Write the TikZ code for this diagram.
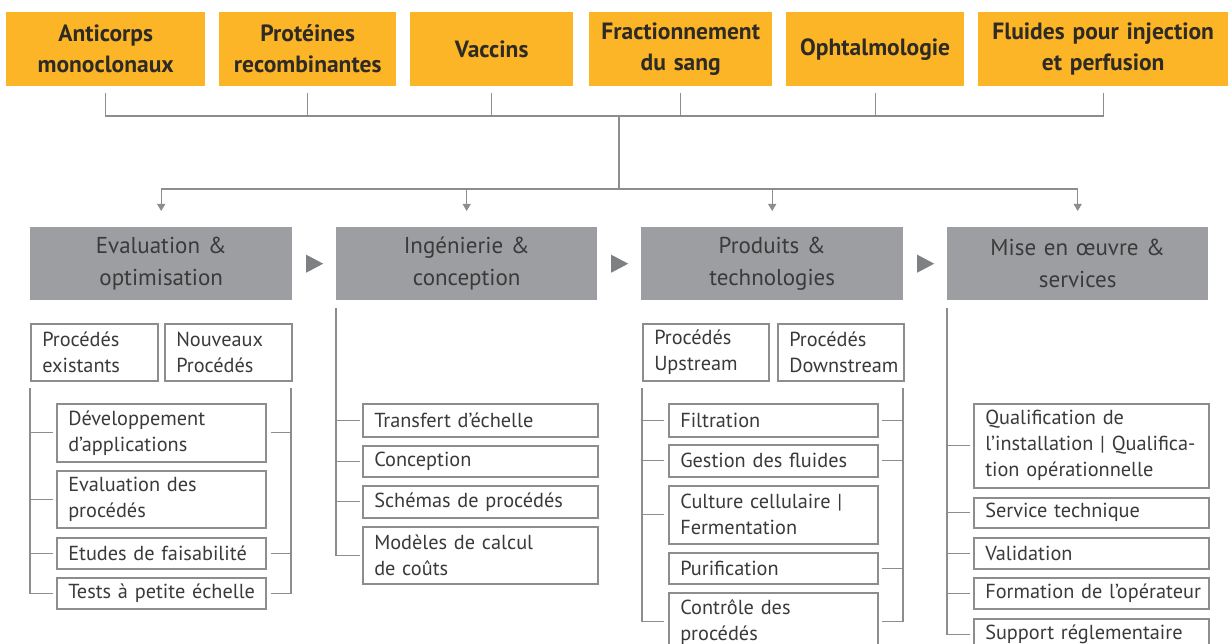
\documentclass[tikz,border=0pt]{standalone}
\usepackage{fontspec}
\setmainfont{PT Sans}
\usetikzlibrary{calc,arrows.meta}
\definecolor{orng}{HTML}{FBB526}
\definecolor{hdr}{HTML}{9D9EA1}
\definecolor{ln}{HTML}{8C8D8F}
\definecolor{txt}{HTML}{3A3A3A}
\definecolor{ttxt}{HTML}{2E2A25}
\definecolor{trig}{HTML}{7F8084}
\newcommand\bx[7][sbox]{%
  \pgfmathsetlengthmacro\bxw{#5pt-#3pt}%
  \pgfmathsetlengthmacro\bxh{#6pt-#4pt}%
  \pgfmathsetlengthmacro\bxt{#5pt-#3pt-23pt}%
  \node[#1,minimum width=\bxw,minimum height=\bxh,text width=\bxt,anchor=north west] (#2) at (#3,#4) {#7};}
\begin{document}
\begin{tikzpicture}[x=1pt,y=-1pt,
  topbox/.style={fill=orng,draw=none,inner sep=0pt,align=center,text=ttxt,
    font=\fontsize{23.5}{31}\selectfont\bfseries},
  hdrbox/.style={fill=hdr,draw=none,inner sep=0pt,align=center,text=txt,
    font=\fontsize{23}{32}\selectfont},
  sbox/.style={draw=ln,line width=1.5pt,fill=white,inner sep=0pt,align=left,text=txt,
    font=\fontsize{20.3}{26}\selectfont},
  conn/.style={draw=ln,line width=1.3pt},
  arr/.style={conn,-{Triangle[length=7pt,width=8pt]}},
  tri/.style={fill=trig,draw=none}]
\useasboundingbox (0,0) rectangle (1231,644);
% top boxes
\bx[topbox]{t1}{6}{12}{205}{86}{Anticorps\\monoclonaux}
\bx[topbox]{t2}{219}{12}{396}{86}{Protéines\\recombinantes}
\bx[topbox]{t3}{410}{12}{573}{86}{Vaccins}
\bx[topbox]{t4}{589}{12}{772}{86}{Fractionnement\\du sang}
\bx[topbox]{t5}{786}{12}{964}{86}{Ophtalmologie}
\bx[topbox]{t6}{978}{12}{1228}{86}{Fluides pour injection\\et perfusion}
% header boxes
\bx[hdrbox]{g1}{30}{227}{292}{300}{Evaluation \&\\optimisation}
\bx[hdrbox]{g2}{336}{227}{597}{300}{Ingénierie \&\\conception}
\bx[hdrbox]{g3}{641}{227}{903}{300}{Produits \&\\technologies}
\bx[hdrbox]{g4}{947}{227}{1208}{300}{Mise en œuvre \&\\services}
% triangles
\foreach \a/\b in {g1/g2,g2/g3,g3/g4}{
  \fill[tri] ($(\a.east)!0.5!(\b.west)$) +(-8,-9) -- +(9,0) -- +(-8,9) -- cycle;}
% top connectors
\coordinate (bus) at (619,116);
\coordinate (bus2) at (619,189);
\draw[conn] ([yshift=-7pt]t1.south) -- (t1.south |- bus) -- (t6.south |- bus) -- ([yshift=-7pt]t6.south);
\foreach \t in {t2,t3,t4,t5}{\draw[conn] ([yshift=-7pt]\t.south) -- (\t.south |- bus);}
\draw[conn] (bus) -- (bus2);
\draw[conn] (g1.north |- bus2) -- (g4.north |- bus2);
\foreach \g in {g1,g2,g3,g4}{\draw[arr] (\g.north |- bus2) -- ([yshift=16pt]\g.north);}
% column 1
\bx{s1}{30}{323}{157}{380}{Procédés\\existants}
\bx{s2}{164}{323}{291}{380}{Nouveaux\\Procédés}
\bx{e1}{56}{403}{265}{461}{Développement\\d’applications}
\bx{e2}{56}{470}{265}{527}{Evaluation des\\procédés}
\bx{e3}{56}{537}{265}{568}{\mbox{Etudes de faisabilité}}
\bx{e4}{56}{577}{265}{608}{\mbox{Tests à petite échelle}}
\coordinate (c1L) at (30,388);
\coordinate (c1R) at (291,388);
\draw[conn] (c1L) -- (c1L |- e4.west) -- ([xshift=-3pt]e4.west);
\foreach \e in {e1,e2,e3}{\draw[conn] (c1L |- \e.west) -- ([xshift=-3pt]\e.west);}
\draw[conn] (c1R) -- (c1R |- e4.east) -- ([xshift=4pt]e4.east);
\foreach \e in {e1,e3}{\draw[conn] (c1R |- \e.east) -- ([xshift=4pt]\e.east);}
% column 2
\bx{f1}{362}{403}{597}{436}{\mbox{Transfert d’échelle}}
\bx{f2}{362}{445}{597}{476}{Conception}
\bx{f3}{362}{485}{597}{517}{\mbox{Schémas de procédés}}
\bx{f4}{362}{526}{597}{583}{Modèles de calcul\\de coûts}
\coordinate (c2L) at ([yshift=-8pt]g2.south west);
\draw[conn] (c2L) -- (c2L |- f4.west) -- ([xshift=-2pt]f4.west);
\foreach \f in {f1,f2,f3}{\draw[conn] (c2L |- \f.west) -- ([xshift=-2pt]\f.west);}
% column 3
\bx{s3}{642}{323}{768}{380}{Procédés\\Upstream}
\bx{s4}{777}{323}{903}{380}{Procédés\\Downstream}
\bx{p1}{668}{403}{877}{436}{Filtration}
\bx{p2}{668}{444}{877}{476}{\mbox{Gestion des fluides}}
\bx{p3}{668}{485}{877}{543}{\mbox{Culture cellulaire |}\\Fermentation}
\bx{p4}{668}{552}{877}{583}{Purification}
\bx{p5}{668}{592}{877}{650}{Contrôle des\\procédés}
\coordinate (c3L) at (642,388);
\coordinate (c3R) at (903,388);
\draw[conn] (c3L) -- (c3L |- p5.west) -- ([xshift=-4pt]p5.west);
\foreach \p in {p1,p2,p3}{\draw[conn] (c3L |- \p.west) -- ([xshift=-4pt]\p.west);}
\draw[conn] (c3R) -- (c3R |- p5.east) -- ([xshift=3pt]p5.east);
\foreach \p in {p1,p2,p4}{\draw[conn] (c3R |- \p.east) -- ([xshift=3pt]\p.east);}
% column 4
\bx{q1}{973}{403}{1208}{487}{Qualification de\\\mbox{l’installation | Qualifica-}\\tion opérationnelle}
\bx{q2}{973}{497}{1208}{527}{\mbox{Service technique}}
\bx{q3}{973}{537}{1208}{568}{Validation}
\bx{q4}{973}{577}{1208}{608}{\mbox{Formation de l’opérateur}}
\bx{q5}{973}{618}{1208}{649}{\mbox{Support réglementaire}}
\coordinate (c4L) at ([yshift=-8pt]g4.south west);
\draw[conn] (c4L) -- (c4L |- q5.west) -- ([xshift=-3pt]q5.west);
\foreach \q in {q1,q2,q3,q4}{\draw[conn] (c4L |- \q.west) -- ([xshift=-3pt]\q.west);}
\end{tikzpicture}
\end{document}
